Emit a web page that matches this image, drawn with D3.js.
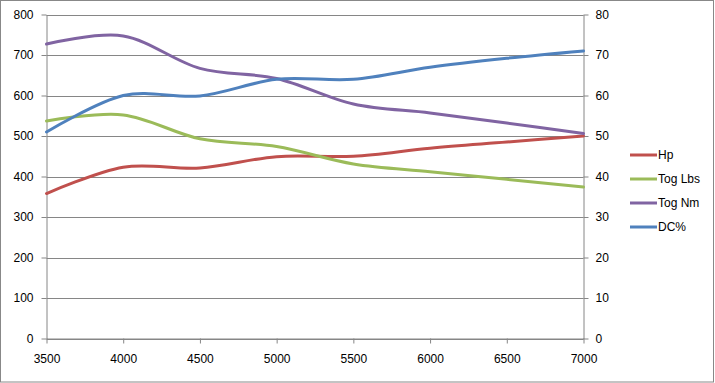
<!DOCTYPE html>
<html><head><meta charset="utf-8">
<script src="https://cdn.jsdelivr.net/npm/d3@7"></script>
<style>body{margin:0;background:#fff;}svg{display:block;font-family:"Liberation Sans",Arial,sans-serif;}</style>
</head><body>
<script>
const rpm = [3500, 4000, 4500, 5000, 5500, 6000, 6500, 7000];
const hp = [358, 423, 421, 449, 450, 470, 485, 500];
const togLbs = [537, 552, 493, 474, 431, 412, 393, 374];
const togNm = [727, 747, 667, 642, 579, 557, 532, 506];
const dcPct = [51, 60, 59.9, 64, 64, 67, 69.2, 71];
const leftTicks = [0, 100, 200, 300, 400, 500, 600, 700, 800];
const rightTicks = [0, 10, 20, 30, 40, 50, 60, 70, 80];
const xTicks = [3500, 4000, 4500, 5000, 5500, 6000, 6500, 7000];
const seriesNames = ["Hp", "Tog Lbs", "Tog Nm", "DC%"];
const colors = ["#C0504D", "#9BBB59", "#8064A2", "#4F81BD"];

const W = 715, H = 383;
const svg = d3.select("body").append("svg").attr("width", W).attr("height", H);
svg.append("rect").attr("x", 0.5).attr("y", 0.5).attr("width", 713).attr("height", 381.5)
  .attr("fill", "#fff").attr("stroke", "#888").attr("stroke-width", 1);

const L = 46.5, R = 583.5, T = 14.5, B = 338.5;
const x = d3.scaleLinear().domain([3500, 7000]).range([L, R]);
const yL = d3.scaleLinear().domain([0, 800]).range([B, T]);
const yR = d3.scaleLinear().domain([0, 80]).range([B, T]);
const gray = "#868686";

// gridlines
svg.append("g").selectAll("line").data(leftTicks).join("line")
  .attr("x1", L).attr("x2", R).attr("y1", d => Math.round(yL(d)) + 0.5).attr("y2", d => Math.round(yL(d)) + 0.5)
  .attr("stroke", gray).attr("stroke-width", 1);

function styleAxis(g) {
  g.select(".domain").attr("stroke", gray);
  g.selectAll(".tick line").attr("stroke", gray);
  g.selectAll(".tick text").attr("fill", "#000").attr("font-size", "12px").attr("font-family", "'Liberation Sans',Arial,sans-serif");
}
const axL = svg.append("g").attr("transform", `translate(${L},0)`)
  .call(d3.axisLeft(yL).tickValues(leftTicks).tickSize(5).tickSizeOuter(0).tickPadding(8).tickFormat(d3.format("d")));
styleAxis(axL);
const axR = svg.append("g").attr("transform", `translate(${R},0)`)
  .call(d3.axisRight(yR).tickValues(rightTicks).tickSize(5).tickSizeOuter(0).tickPadding(7).tickFormat(d3.format("d")));
styleAxis(axR);
const axB = svg.append("g").attr("transform", `translate(0,${B})`)
  .call(d3.axisBottom(x).tickValues(xTicks).tickSize(5).tickSizeOuter(0).tickPadding(11).tickFormat(d3.format("d")));
styleAxis(axB);

const series = [
  {vals: hp, y: yL}, {vals: togLbs, y: yL}, {vals: togNm, y: yL}, {vals: dcPct, y: yR}
];
series.forEach((s, i) => {
  const line = d3.line().x((d, j) => x(rpm[j])).y(d => s.y(d)).curve(d3.curveCardinal.tension(0));
  svg.append("path").datum(s.vals).attr("d", line).attr("fill", "none")
    .attr("stroke", colors[i]).attr("stroke-width", 3).attr("stroke-linecap", "round");
});

// legend
const lg = svg.append("g");
seriesNames.forEach((n, i) => {
  const yy = 155 + i * 24;
  lg.append("line").attr("x1", 630).attr("x2", 657).attr("y1", yy).attr("y2", yy)
    .attr("stroke", colors[i]).attr("stroke-width", 3);
  lg.append("text").attr("x", 658).attr("y", yy).attr("dy", "0.35em")
    .attr("font-size", "12px").attr("fill", "#000").text(n);
});
</script>
</body></html>
